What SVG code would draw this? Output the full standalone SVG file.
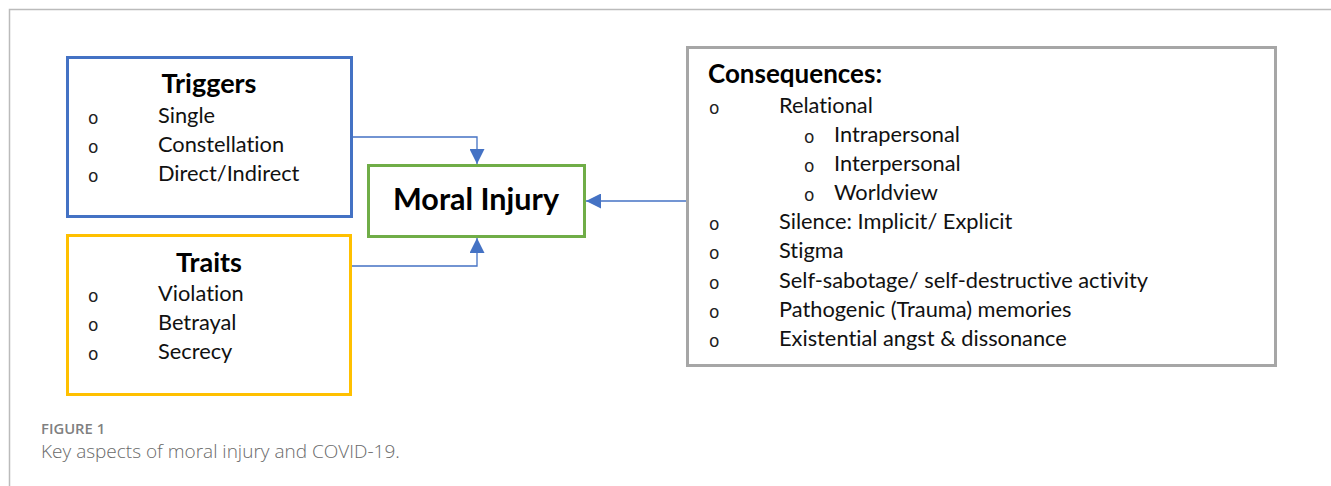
<svg xmlns="http://www.w3.org/2000/svg" width="1331" height="486" viewBox="0 0 1331 486">
<defs>
<style>
text{font-variant-ligatures:none}
.t{font-family:Lato,"Open Sans","Liberation Sans",sans-serif;font-size:21.8px;fill:#111}
.b{font-family:Lato,"Open Sans","Liberation Sans",sans-serif;font-weight:bold;fill:#000}
.o{font-family:"DejaVu Sans",sans-serif;font-size:17px;fill:#222}
.box{fill:#fff;stroke-width:3}
.c{fill:none;stroke:#4472C4;stroke-width:1.3}
.cap1{font-family:"Open Sans","Liberation Sans",sans-serif;font-size:14.8px;font-weight:600;fill:#808080}
.cap2{font-family:"Open Sans","Liberation Sans",sans-serif;font-size:19px;font-weight:300;fill:#6a6a6a}
</style>
<marker id="ah" viewBox="0 0 10 10" refX="10" refY="5" markerWidth="15" markerHeight="15" markerUnits="userSpaceOnUse" orient="auto">
<path d="M0,0 L10,5 L0,10 Z" fill="#4472C4"/>
</marker>
</defs>
<rect width="1331" height="486" fill="#fff"/>
<path d="M9.5,486 V9.5 H1331" fill="none" stroke="#bbb" stroke-width="1.5"/>

<g id="connectors">
<path class="c" d="M352,137 H477 V164" marker-end="url(#ah)"/>
<path class="c" d="M351,266 H477 V238" marker-end="url(#ah)"/>
<path class="c" d="M687,201 H586" marker-end="url(#ah)"/>
</g>

<g id="triggers">
<rect class="box" x="67.5" y="57.5" width="284" height="159" stroke="#4472C4"/>
<text class="b" x="209" y="93" font-size="27" text-anchor="middle">Triggers</text>
<text class="o" x="88" y="124">o</text><text class="t" x="158" y="123">Single</text>
<text class="o" x="88" y="153">o</text><text class="t" x="158" y="152">Constellation</text>
<text class="o" x="88" y="182">o</text><text class="t" x="158" y="181">Direct/Indirect</text>
</g>

<g id="traits">
<rect class="box" x="67.5" y="235.5" width="283" height="159" stroke="#FFC000"/>
<text class="b" x="209" y="272" font-size="27" text-anchor="middle">Traits</text>
<text class="o" x="88" y="302">o</text><text class="t" x="158" y="301">Violation</text>
<text class="o" x="88" y="331">o</text><text class="t" x="158" y="330">Betrayal</text>
<text class="o" x="88" y="360">o</text><text class="t" x="158" y="359">Secrecy</text>
</g>

<g id="moral-injury">
<rect class="box" x="368.5" y="165.5" width="216" height="71" stroke="#70AD47"/>
<text class="b" x="476" y="210" font-size="30.5" text-anchor="middle">Moral Injury</text>
</g>

<g id="consequences">
<rect class="box" x="687.5" y="47.5" width="588" height="318" stroke="#A6A6A6"/>
<text class="b" x="708" y="83" font-size="26">Consequences:</text>
<text class="o" x="709" y="114">o</text><text class="t" x="779" y="113">Relational</text>
<text class="o" x="804" y="143">o</text><text class="t" x="834" y="142">Intrapersonal</text>
<text class="o" x="804" y="172">o</text><text class="t" x="834" y="171">Interpersonal</text>
<text class="o" x="804" y="201">o</text><text class="t" x="834" y="200">Worldview</text>
<text class="o" x="709" y="230">o</text><text class="t" x="779" y="229">Silence: Implicit/ Explicit</text>
<text class="o" x="709" y="259">o</text><text class="t" x="779" y="258">Stigma</text>
<text class="o" x="709" y="289">o</text><text class="t" x="779" y="288">Self-sabotage/ self-destructive activity</text>
<text class="o" x="709" y="318">o</text><text class="t" x="779" y="317">Pathogenic (Trauma) memories</text>
<text class="o" x="709" y="347">o</text><text class="t" x="779" y="346">Existential angst &amp; dissonance</text>
</g>

<text class="cap1" x="41" y="434">FIGURE 1</text>
<text class="cap2" x="41" y="458">Key aspects of moral injury and COVID-19.</text>
</svg>
